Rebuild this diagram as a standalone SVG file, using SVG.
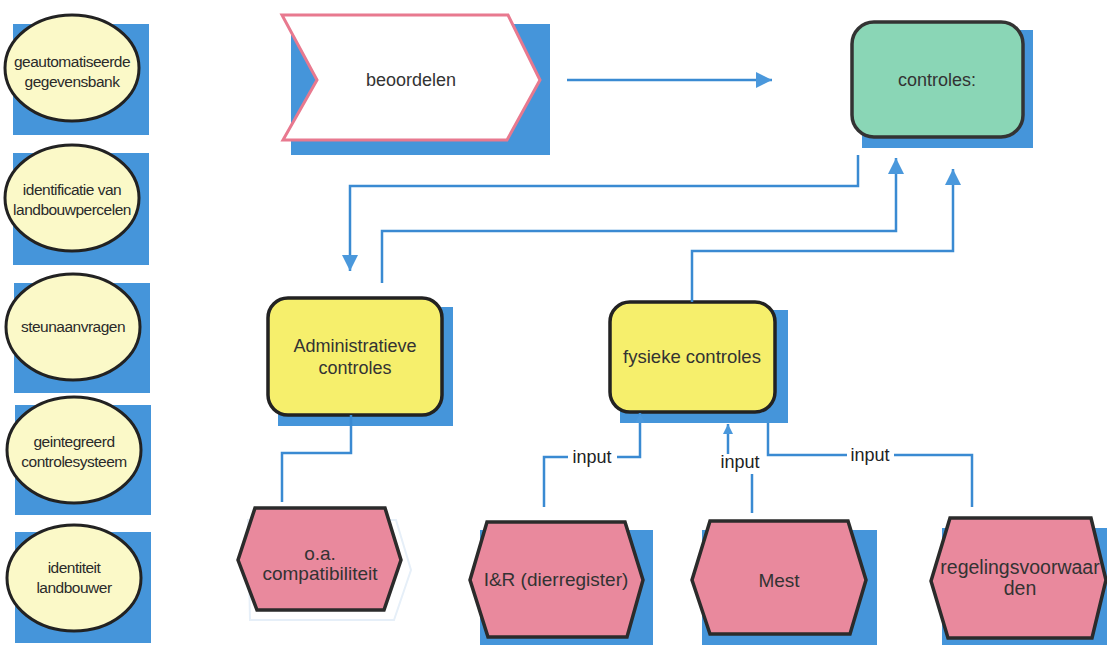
<svg xmlns="http://www.w3.org/2000/svg" width="1107" height="645" viewBox="0 0 1107 645">
<defs>
<style>
.sh{fill:#4595da}
.ell{fill:#fbf9c8;stroke:#222;stroke-width:3}
.yb{fill:#f6ef6c;stroke:#222;stroke-width:3.5}
.gb{fill:#8ad6b6;stroke:#333;stroke-width:3.5}
.hex{fill:#e9899d;stroke:#2b2b2b;stroke-width:3.5}
.conn{fill:none;stroke:#3a8ad2;stroke-width:2.5}
text{font-family:"Liberation Sans",Arial,sans-serif;fill:#333;text-anchor:middle}
.sm{font-size:15.5px;letter-spacing:-0.5px;fill:#2a2a2a}
.md{font-size:18px}
.lb{font-size:18px;fill:#222}
</style>
<marker id="ab" markerUnits="userSpaceOnUse" markerWidth="18" markerHeight="18" refX="16" refY="8" orient="auto">
<path d="M0,0 L16,8 L0,16 z" fill="#4a98dc"/>
</marker>
<marker id="as" markerUnits="userSpaceOnUse" markerWidth="12" markerHeight="12" refX="10" refY="5" orient="auto">
<path d="M0,0 L10,5 L0,10 z" fill="#4a98dc"/>
</marker>
</defs>
<rect width="1107" height="645" fill="#fff"/>

<g id="n-gegevensbank">
<rect class="sh" x="13" y="24" width="136" height="111"/>
<ellipse class="ell" cx="72" cy="68" rx="67" ry="53"/>
<text class="sm" x="72" y="67">geautomatiseerde</text>
<text class="sm" x="72" y="87">gegevensbank</text>
</g>
<g id="n-percelen">
<rect class="sh" x="13" y="153" width="136" height="112"/>
<ellipse class="ell" cx="72" cy="198" rx="67" ry="53"/>
<text class="sm" x="72" y="195">identificatie van</text>
<text class="sm" x="72" y="215">landbouwpercelen</text>
</g>
<g id="n-steunaanvragen">
<rect class="sh" x="14" y="283" width="136" height="110"/>
<ellipse class="ell" cx="73" cy="327" rx="67" ry="53"/>
<text class="sm" x="73" y="332">steunaanvragen</text>
</g>
<g id="n-controlesysteem">
<rect class="sh" x="15" y="405" width="136" height="110"/>
<ellipse class="ell" cx="74" cy="450" rx="67" ry="53"/>
<text class="sm" x="74" y="447">geintegreerd</text>
<text class="sm" x="74" y="467">controlesysteem</text>
</g>
<g id="n-identiteit">
<rect class="sh" x="15" y="532" width="136" height="111"/>
<ellipse class="ell" cx="74" cy="578" rx="67" ry="53"/>
<text class="sm" x="74" y="573">identiteit</text>
<text class="sm" x="74" y="593">landbouwer</text>
</g>

<g id="n-beoordelen">
<rect class="sh" x="291" y="24" width="259" height="131"/>
<polygon points="282,15 508,15 540,80 507,140 283,140 317,80" fill="#fff" stroke="#e8798f" stroke-width="3"/>
<text class="md" x="411" y="86">beoordelen</text>
</g>

<g id="n-controles">
<rect class="sh" x="862" y="30" width="171" height="118"/>
<rect class="gb" x="852" y="22" width="171" height="115" rx="22"/>
<text class="md" x="937" y="86">controles:</text>
</g>

<g id="n-administratieve">
<rect class="sh" x="278" y="307" width="175" height="119"/>
<rect class="yb" x="268" y="298" width="174" height="117" rx="20"/>
<text class="md" x="355" y="352">Administratieve</text>
<text class="md" x="355" y="374">controles</text>
</g>

<g id="n-fysieke">
<rect class="sh" x="620" y="310" width="168" height="113"/>
<rect class="yb" x="610" y="302" width="165" height="110" rx="20"/>
<text class="md" x="692" y="363" style="font-size:18.5px">fysieke controles</text>
</g>

<g id="n-compatibiliteit">
<polygon points="248,520 396,520 411,570 394,620 250,620" fill="none" stroke="#e6eff8" stroke-width="2"/>
<polygon class="hex" points="238,560 255,508 385,508 401,560 384,610 257,610"/>
<text class="md" x="320" y="560" style="font-size:19px">o.a.</text>
<text class="md" x="320" y="580" style="font-size:19px">compatibiliteit</text>
</g>

<g id="n-ir">
<rect class="sh" x="480" y="530" width="173" height="115"/>
<polygon class="hex" points="470,580 487,522 625,522 643,580 627,637 488,637"/>
<text class="md" x="556" y="586" style="font-size:19px">I&amp;R (dierregister)</text>
</g>

<g id="n-mest">
<rect class="sh" x="702" y="530" width="175" height="115"/>
<polygon class="hex" points="692,580 710,521 848,521 866,580 850,634 710,634"/>
<text class="md" x="779" y="587" style="font-size:19px">Mest</text>
</g>

<g id="n-regelingsvoorwaarden">
<rect class="sh" x="942" y="528" width="165" height="117"/>
<polygon class="hex" points="931,581 950,518 1091,518 1106,580 1092,638 948,638"/>
<text class="md" x="1020" y="574" style="font-size:19.5px">regelingsvoorwaar</text>
<text class="md" x="1020" y="595" style="font-size:19.5px">den</text>
</g>

<g id="connectors">
<line class="conn" x1="567" y1="80" x2="772" y2="80" marker-end="url(#ab)"/>
<polyline class="conn" points="858,155 858,186 350,186 350,271" marker-end="url(#ab)"/>
<polyline class="conn" points="382,283 382,231 896,231 896,158" marker-end="url(#ab)"/>
<polyline class="conn" points="692,302 692,251 953,251 953,169" marker-end="url(#ab)"/>
<polyline class="conn" points="351,415 351,453 282,453 282,502"/>
<polyline class="conn" points="544,507 544,457 568,457"/>
<polyline class="conn" points="617,457 640,457 640,413" marker-end="url(#as)"/>
<text class="lb" x="592" y="463">input</text>
<line class="conn" x1="728" y1="454" x2="728" y2="424" marker-end="url(#as)"/>
<line class="conn" x1="752" y1="513" x2="752" y2="474"/>
<text class="lb" x="740" y="468">input</text>
<polyline class="conn" points="768,423 768,455 847,455"/>
<polyline class="conn" points="894,455 972,455 972,507"/>
<text class="lb" x="870" y="461">input</text>
</g>
</svg>
